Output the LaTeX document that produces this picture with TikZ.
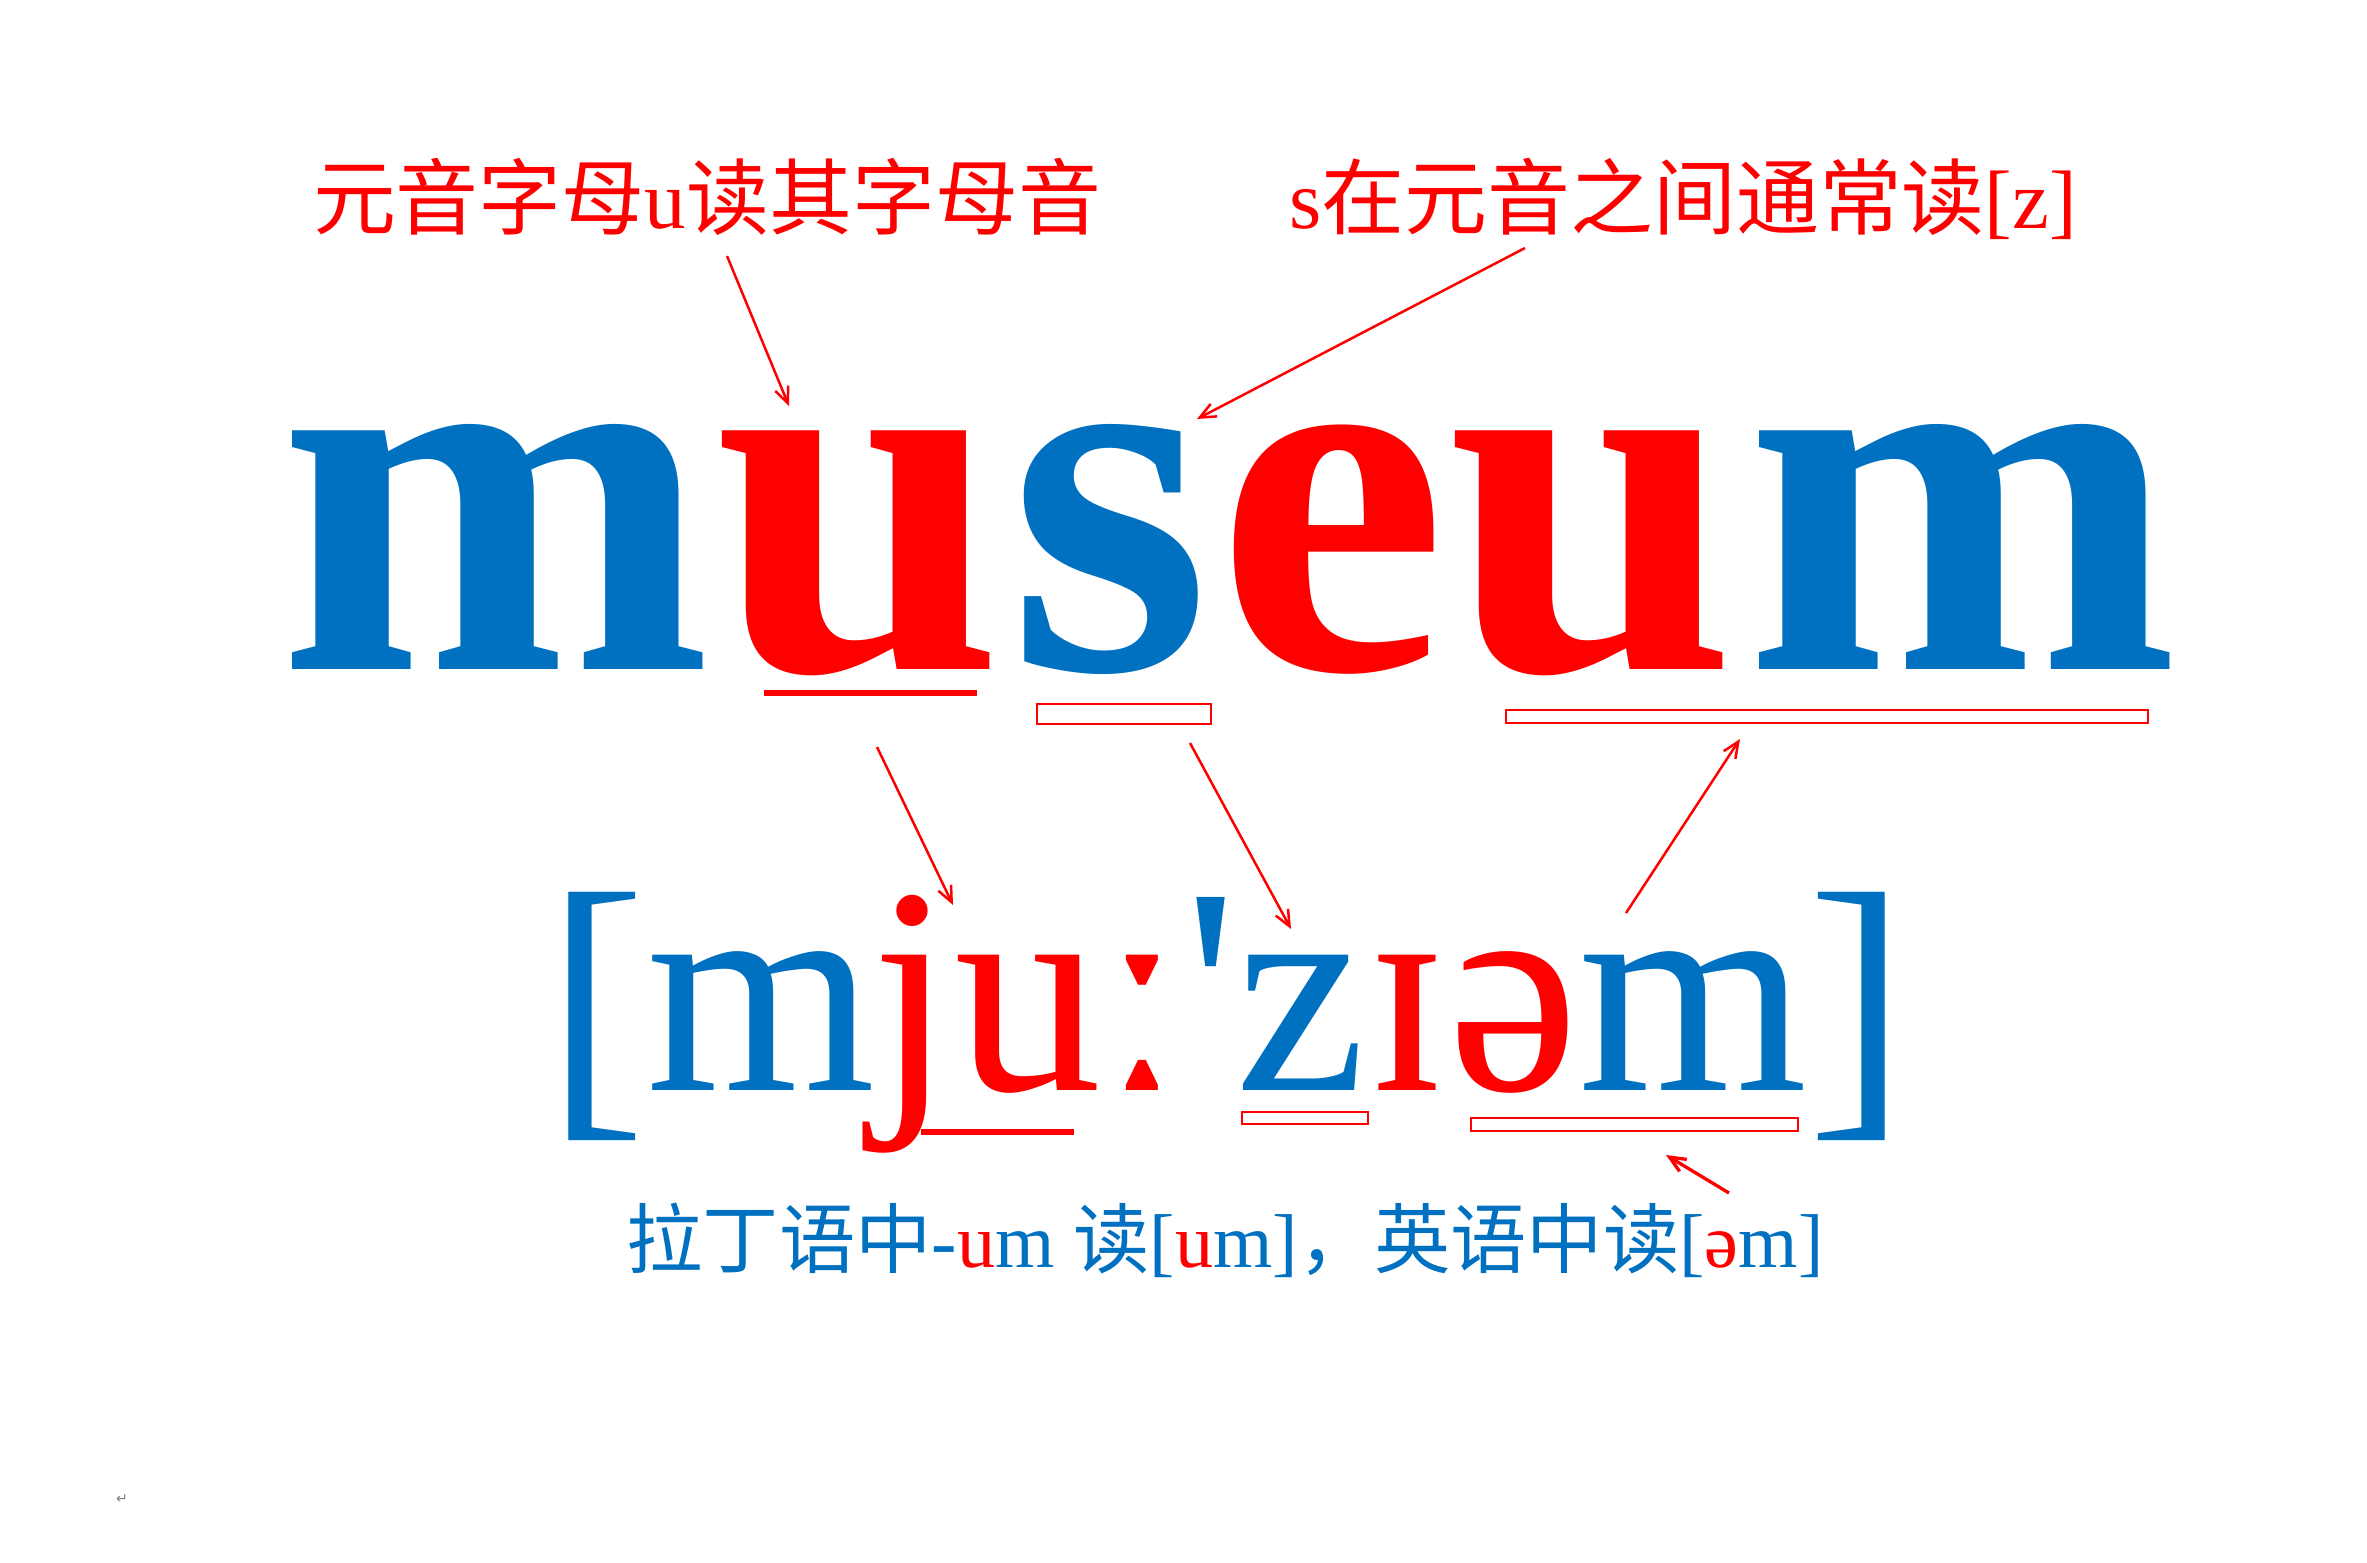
\documentclass[tikz,border=0pt]{standalone}
\usepackage{fontspec}
\setmainfont{Liberation Serif}
\newfontfamily\cjk{Noto Sans CJK SC}
\newfontfamily\dejavu{DejaVu Sans}
\newfontfamily\plainserif[Ligatures=TeXOff]{Liberation Serif}
\usetikzlibrary{arrows.meta}
\definecolor{wblue}{HTML}{0070C0}
\definecolor{wred}{HTML}{FF0000}
\tikzset{
  bigl/.style={anchor=base, inner sep=0pt, font=\fontsize{148}{150}\selectfont\bfseries},
  ipa/.style={anchor=base, inner sep=0pt, font=\fontsize{83.9}{84}\selectfont},
  brk/.style={anchor=base, inner sep=0pt, font=\fontsize{85.4}{86}\selectfont, text=wblue},
  lbl/.style={inner sep=0pt, font=\fontsize{23.6}{24}\selectfont},
  lblb/.style={inner sep=0pt, font=\fontsize{21.7}{22}\selectfont},
  arr/.style={draw=wred, line width=0.25mm, -{Straight Barb[length=1.6mm,width=1.4mm]}},
  ubox/.style={draw=wred, line width=0.25mm},
  ubar/.style={fill=wred},
}
\begin{document}
\begin{tikzpicture}[x=0.1mm, y=-0.1mm]
\path[use as bounding box, fill=white] (0,0) rectangle (2367,1563);

% top labels
\node[lbl, text=wred] (lab1) at (707,197) {{\cjk 元音字母}u{\cjk 读其字母音}};
\node[lbl, text=wred] (lab2) at (1683,199) {s{\cjk 在元音之间通常读}[z]};

% main word
\node[bigl, text=wblue] (w1) at (495,669) {m};
\node[bigl, text=wred]  (w2) at (859,669) {u};
\node[bigl, text=wblue] (w3) at (1110,669) {s};
\node[bigl, text=wred]  (w4) at (1332,669) {e};
\node[bigl, text=wred]  (w5) at (1592,669) {u};
\node[bigl, text=wblue] (w6) at (1962,669) {m};

% underlines of the word
\fill[ubar] (764,690) rectangle (977,696);
\draw[ubox] (1037,704) rectangle (1211,724);
\draw[ubox] (1506,710) rectangle (2148,723);

% phonetic transcription
\node[brk] (bl) at (596,1100) {[};
\node[ipa, text=wblue] (p1) at (761,1090) {m};
\node[ipa, text=wred]  (p2) at (912,1090) {j};
\node[ipa, text=wred]  (p3) at (1028,1090) {u};
\node[ipa, text=wred]  (p4) at (1142,1090) {ː};
\node[ipa, text=wblue] (p5) at (1211,1090) {\plainserif '};
\node[ipa, text=wblue] (p6) at (1301,1090) {z};
\node[ipa, text=wred]  (p7) at (1407,1090) {ɪ};
\node[ipa, text=wred]  (p8) at (1514,1090) {ə};
\node[ipa, text=wblue] (p9) at (1693,1090) {m};
\node[brk] (br) at (1857,1100) {]};

% underlines of the transcription
\fill[ubar] (921,1129) rectangle (1074,1135);
\draw[ubox] (1242,1112) rectangle (1368,1124);
\draw[ubox] (1471,1118) rectangle (1798,1131);

% bottom label
\node[lblb, text=wblue] (lab3) at (1225,1240)
  {{\cjk 拉丁语中}-{\color{wred}u}m {\cjk 读}[{\color{wred}u}m]{\cjk ，英语中读}[{\color{wred}ə}m]};

% arrow end points
\coordinate (a1s) at (727,256);  \coordinate (a1e) at (789,406);
\coordinate (a2s) at (1525,248); \coordinate (a2e) at (1197,419);
\coordinate (a3s) at (877,747);  \coordinate (a3e) at (953,905);
\coordinate (a4s) at (1190,743); \coordinate (a4e) at (1291,929);
\coordinate (a5s) at (1626,913); \coordinate (a5e) at (1740,739);
\coordinate (a6s) at (1729,1193); \coordinate (a6e) at (1666,1155);

\draw[arr] (a1s) -- (a1e);
\draw[arr] (a2s) -- (a2e);
\draw[arr] (a3s) -- (a3e);
\draw[arr] (a4s) -- (a4e);
\draw[arr] (a5s) -- (a5e);
\draw[arr, line width=0.33mm] (a6s) -- (a6e);

% paragraph mark
\node[inner sep=0pt, text=gray, font=\dejavu\fontsize{4}{4}\selectfont] (pm) at (122,1499) {↵};
\end{tikzpicture}
\end{document}
